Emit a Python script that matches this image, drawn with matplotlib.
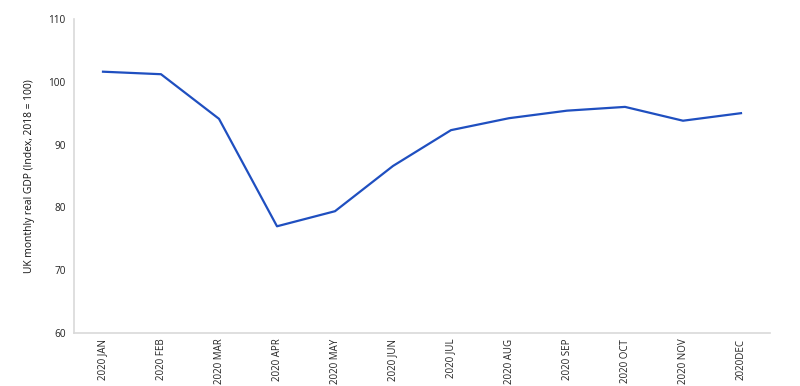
import matplotlib.pyplot as plt

months = ['2020 JAN', '2020 FEB', '2020 MAR', '2020 APR', '2020 MAY', '2020 JUN',
          '2020 JUL', '2020 AUG', '2020 SEP', '2020 OCT', '2020 NOV', '2020DEC']
gdp = [101.6, 101.2, 94.1, 77.0, 79.4, 86.6, 92.3, 94.2, 95.4, 96.0, 93.8, 95.0]
y_ticks = [60, 70, 80, 90, 100, 110]

plt.rcParams['font.family'] = ['Open Sans', 'DejaVu Sans']

fig = plt.figure(figsize=(8, 3.86), dpi=100)
ax = fig.add_axes([0.0925, 0.137, 0.87, 0.814])

x = list(range(len(months)))
ax.plot(x, gdp, color='#1f4fc0', linewidth=1.6)

ax.set_xlim(-0.5, len(months) - 0.5)
ax.set_ylim(60, 110)
ax.set_yticks(y_ticks)
ax.set_xticks(x)
ax.set_xticklabels(months, rotation=90, fontsize=7, color='#222222')
ax.tick_params(axis='y', labelsize=7.2, colors='#222222', length=0, pad=6)
ax.tick_params(axis='x', length=0, pad=4)

for s in ['top', 'right']:
    ax.spines[s].set_visible(False)
for s in ['left', 'bottom']:
    ax.spines[s].set_color('#d9d9d9')
    ax.spines[s].set_linewidth(1.2)

ax.set_ylabel('UK monthly real GDP (Index, 2018 = 100)', fontsize=7.4, color='#111111', labelpad=10)

fig.savefig('out.png', dpi=100)
